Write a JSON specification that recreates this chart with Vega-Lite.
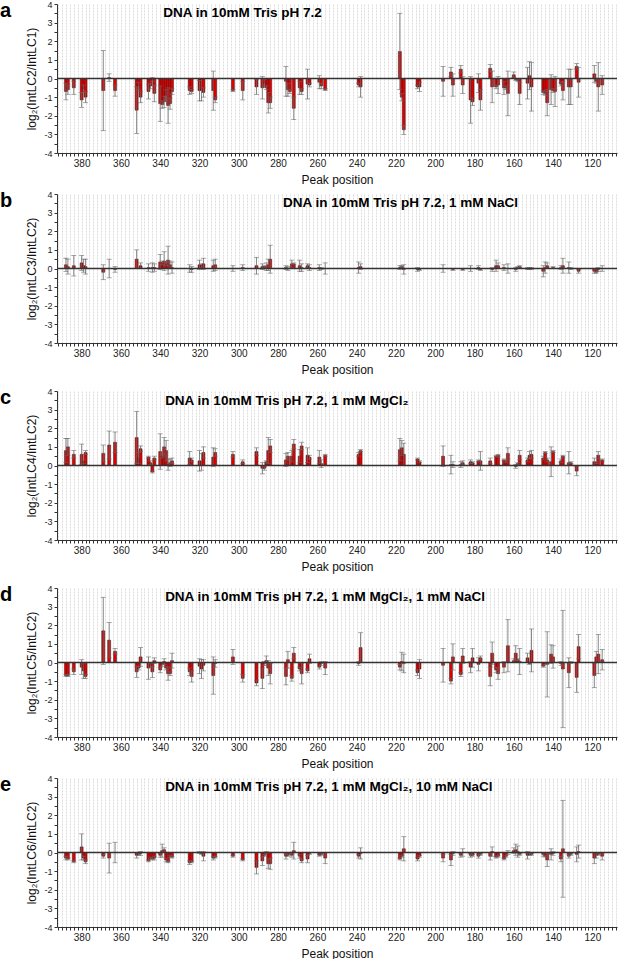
{
"$schema": "https://vega.github.io/schema/vega-lite/v6.json",
"background": "white",
"padding": {"left": 0, "top": 0, "right": 2, "bottom": 0},
"config": {
  "font": "Liberation Sans",
  "view": {"stroke": null},
  "axis": {"domainColor": "#333", "tickColor": "#333", "labelColor": "#222", "labelFontSize": 10, "titleFontSize": 12, "titleFontWeight": "normal", "titleColor": "#111", "tickSize": 3, "labelPadding": 2},
  "axisX": {"grid": true, "gridColor": "#d0d0d0", "gridDash": [2, 1], "gridWidth": 0.7, "titlePadding": 6},
  "axisY": {"grid": false, "titlePadding": 5, "labelFontSize": 9},
  "title": {"fontSize": 20, "fontWeight": "bold", "anchor": "start", "frame": "group", "dx": -57, "offset": -21, "color": "#000"}
},
"datasets": {
"a": [
{"p":388,"v":-0.7,"e":0.45},{"p":387,"v":-0.6,"e":0.25},{"p":384,"v":-0.5,"e":0.35},{"p":380,"v":-1.15,"e":0.4},{"p":379,"v":-0.55,"e":0.2},{"p":378,"v":-1.0,"e":0.3},
{"p":369,"v":-0.65,"e":2.15},{"p":366,"v":0.05,"e":0.2},{"p":363,"v":-0.65,"e":0.3},{"p":352,"v":-1.7,"e":1.25},{"p":351,"v":-0.4,"e":0.2},{"p":350,"v":-1.0,"e":0.3},
{"p":346,"v":-0.7,"e":0.4},{"p":345,"v":-0.4,"e":0.15},{"p":344,"v":-0.05,"e":0.1},{"p":343,"v":-0.8,"e":0.45},{"p":340,"v":-1.35,"e":0.95},{"p":339,"v":-1.4,"e":0.2},
{"p":338,"v":-1.25,"e":0.3},{"p":337,"v":-0.9,"e":0.3},{"p":336,"v":-1.45,"e":0.95},{"p":335,"v":-1.35,"e":0.3},{"p":334,"v":-0.7,"e":0.15},{"p":325,"v":-0.65,"e":0.2},
{"p":324,"v":-0.7,"e":0.1},{"p":320,"v":-0.65,"e":0.55},{"p":319,"v":-0.6,"e":0.6},{"p":318,"v":-0.75,"e":0.25},{"p":313,"v":-0.65,"e":1.05},{"p":312,"v":-1.15,"e":0.15},
{"p":303,"v":-0.65,"e":0.05},{"p":298,"v":-0.65,"e":0.5},{"p":291,"v":-0.45,"e":0.4},{"p":288,"v":-0.5,"e":0.6},{"p":287,"v":-0.25,"e":0.2},{"p":286,"v":-0.5,"e":0.1},
{"p":285,"v":-1.3,"e":0.55},{"p":284,"v":-1.3,"e":0.3},{"p":276,"v":-0.15,"e":0.8},{"p":275,"v":-0.6,"e":0.35},{"p":274,"v":-0.7,"e":0.1},{"p":272,"v":-1.6,"e":0.6},
{"p":269,"v":-0.5,"e":0.35},{"p":268,"v":-0.7,"e":0.15},{"p":265,"v":-0.3,"e":0.8},{"p":264,"v":-0.35,"e":0.1},{"p":259,"v":-0.2,"e":0.35},{"p":258,"v":-0.4,"e":0.15},
{"p":256,"v":-0.6,"e":0.05},{"p":239,"v":-0.35,"e":0.1},{"p":238,"v":-0.45,"e":0.55},{"p":218,"v":1.45,"e":2.05},{"p":217,"v":-1.0,"e":0.2},{"p":216,"v":-2.75,"e":0.25},
{"p":209,"v":-0.45,"e":0.1},{"p":208,"v":-0.45,"e":0.25},{"p":196,"v":-0.15,"e":0.8},{"p":192,"v":0.35,"e":0.25},{"p":191,"v":-0.35,"e":0.6},{"p":187,"v":0.5,"e":0.2},
{"p":186,"v":-0.35,"e":0.45},{"p":182,"v":-1.15,"e":1.25},{"p":181,"v":-1.25,"e":0.2},{"p":178,"v":-0.25,"e":0.5},{"p":177,"v":-1.15,"e":0.55},{"p":172,"v":0.55,"e":0.2},
{"p":171,"v":-0.45,"e":0.85},{"p":169,"v":-0.45,"e":0.1},{"p":168,"v":-0.35,"e":0.45},{"p":165,"v":-0.5,"e":0.35},{"p":164,"v":-0.5,"e":0.1},{"p":163,"v":-0.8,"e":1.2},
{"p":160,"v":0.2,"e":0.15},{"p":159,"v":-0.05,"e":0.05},{"p":158,"v":-0.1,"e":0.05},{"p":157,"v":-0.8,"e":0.6},{"p":153,"v":-0.25,"e":0.85},{"p":152,"v":0.15,"e":0.75},
{"p":151,"v":-0.45,"e":1.3},{"p":145,"v":-0.75,"e":0.1},{"p":144,"v":-0.8,"e":0.1},{"p":143,"v":-1.3,"e":0.7},{"p":141,"v":-0.6,"e":0.8},{"p":140,"v":-0.65,"e":0.1},
{"p":139,"v":-0.7,"e":0.8},{"p":136,"v":-0.3,"e":0.1},{"p":135,"v":-0.65,"e":0.5},{"p":132,"v":-0.45,"e":0.95},{"p":131,"v":-0.45,"e":0.95},{"p":128,"v":0.65,"e":0.15},
{"p":127,"v":-0.2,"e":0.8},{"p":119,"v":0.25,"e":0.45},{"p":118,"v":-0.15,"e":0.1},{"p":117,"v":-0.45,"e":1.3},{"p":115,"v":-0.35,"e":0.5}
],
"b": [
{"p":388,"v":0.2,"e":0.35},{"p":387,"v":0.1,"e":0.4},{"p":384,"v":0.15,"e":0.55},{"p":380,"v":0.3,"e":0.4},{"p":379,"v":0.15,"e":0.35},{"p":378,"v":0.1,"e":0.4},
{"p":369,"v":-0.2,"e":0.4},{"p":366,"v":0.0,"e":0.5},{"p":363,"v":-0.05,"e":0.15},{"p":352,"v":0.5,"e":0.5},{"p":350,"v":0.15,"e":0.15},{"p":346,"v":0.05,"e":0.2},
{"p":344,"v":0.05,"e":0.25},{"p":343,"v":0.05,"e":0.2},{"p":340,"v":0.35,"e":0.4},{"p":339,"v":0.3,"e":0.1},{"p":338,"v":0.4,"e":0.5},{"p":337,"v":0.25,"e":0.1},
{"p":336,"v":0.45,"e":0.75},{"p":335,"v":0.2,"e":0.2},{"p":334,"v":0.05,"e":0.3},{"p":325,"v":0.0,"e":0.2},{"p":324,"v":-0.05,"e":0.15},{"p":320,"v":0.2,"e":0.25},
{"p":319,"v":0.15,"e":0.1},{"p":318,"v":0.25,"e":0.3},{"p":313,"v":0.15,"e":0.3},{"p":312,"v":0.2,"e":0.3},{"p":303,"v":0.0,"e":0.15},{"p":298,"v":0.05,"e":0.15},
{"p":291,"v":0.15,"e":0.45},{"p":288,"v":0.1,"e":0.15},{"p":287,"v":0.1,"e":0.05},{"p":286,"v":0.1,"e":0.2},{"p":285,"v":0.2,"e":0.3},{"p":284,"v":0.5,"e":0.75},
{"p":276,"v":0.05,"e":0.1},{"p":275,"v":0.0,"e":0.1},{"p":273,"v":0.25,"e":0.2},{"p":272,"v":0.25,"e":0.05},{"p":269,"v":0.15,"e":0.3},{"p":268,"v":0.05,"e":0.2},
{"p":265,"v":0.15,"e":0.1},{"p":264,"v":0.05,"e":0.15},{"p":259,"v":0.05,"e":0.15},{"p":258,"v":0.0,"e":0.05},{"p":256,"v":0.0,"e":0.3},{"p":239,"v":0.05,"e":0.3},
{"p":238,"v":0.1,"e":0.15},{"p":218,"v":0.05,"e":0.1},{"p":217,"v":0.1,"e":0.05},{"p":216,"v":-0.05,"e":0.25},{"p":209,"v":-0.05,"e":0.1},{"p":208,"v":-0.05,"e":0.05},
{"p":196,"v":0.0,"e":0.2},{"p":191,"v":-0.05,"e":0.05},{"p":186,"v":-0.05,"e":0.05},{"p":182,"v":0.0,"e":0.15},{"p":178,"v":0.05,"e":0.1},{"p":177,"v":-0.05,"e":0.05},
{"p":171,"v":-0.05,"e":0.1},{"p":169,"v":0.15,"e":0.3},{"p":168,"v":0.15,"e":0.15},{"p":165,"v":0.05,"e":0.15},{"p":163,"v":0.0,"e":0.25},{"p":159,"v":-0.05,"e":0.1},
{"p":158,"v":0.05,"e":0.05},{"p":157,"v":0.1,"e":0.05},{"p":153,"v":0.0,"e":0.05},{"p":152,"v":0.0,"e":0.05},{"p":151,"v":0.0,"e":0.05},{"p":145,"v":-0.15,"e":0.3},
{"p":144,"v":0.05,"e":0.3},{"p":143,"v":0.15,"e":0.15},{"p":140,"v":0.05,"e":0.05},{"p":136,"v":0.05,"e":0.1},{"p":135,"v":0.15,"e":0.4},{"p":132,"v":0.05,"e":0.3},
{"p":131,"v":0.0,"e":0.05},{"p":127,"v":-0.15,"e":0.1},{"p":119,"v":-0.15,"e":0.1},{"p":118,"v":-0.2,"e":0.05},{"p":117,"v":-0.05,"e":0.1},{"p":115,"v":0.0,"e":0.15}
],
"c": [
{"p":388,"v":0.8,"e":0.65},{"p":387,"v":1.0,"e":0.45},{"p":384,"v":0.6,"e":0.2},{"p":380,"v":0.6,"e":0.55},{"p":379,"v":0.2,"e":0.1},{"p":378,"v":0.7,"e":0.1},
{"p":369,"v":0.65,"e":0.45},{"p":366,"v":1.1,"e":0.75},{"p":363,"v":1.25,"e":0.55},{"p":352,"v":1.5,"e":1.4},{"p":351,"v":0.4,"e":0.3},{"p":350,"v":0.9,"e":0.15},
{"p":346,"v":0.45,"e":0.05},{"p":345,"v":0.15,"e":0.1},{"p":344,"v":-0.35,"e":0.05},{"p":343,"v":0.4,"e":0.1},{"p":340,"v":0.75,"e":0.95},{"p":339,"v":0.5,"e":0.1},
{"p":338,"v":1.0,"e":0.5},{"p":337,"v":0.8,"e":0.55},{"p":336,"v":0.05,"e":0.3},{"p":335,"v":0.15,"e":0.2},{"p":334,"v":0.25,"e":0.15},{"p":325,"v":0.4,"e":0.35},
{"p":324,"v":0.3,"e":0.1},{"p":320,"v":0.25,"e":0.55},{"p":319,"v":0.2,"e":0.45},{"p":318,"v":0.7,"e":0.3},{"p":313,"v":0.45,"e":0.5},{"p":312,"v":0.7,"e":0.2},
{"p":303,"v":0.6,"e":0.15},{"p":298,"v":0.2,"e":0.1},{"p":291,"v":0.75,"e":0.2},{"p":288,"v":-0.15,"e":0.3},{"p":287,"v":-0.15,"e":0.1},{"p":286,"v":0.2,"e":0.05},
{"p":285,"v":0.8,"e":0.7},{"p":284,"v":1.05,"e":0.35},{"p":276,"v":0.3,"e":0.35},{"p":275,"v":0.5,"e":0.2},{"p":273,"v":0.5,"e":0.3},{"p":272,"v":1.15,"e":0.25},
{"p":269,"v":0.5,"e":0.35},{"p":268,"v":1.05,"e":0.2},{"p":265,"v":0.55,"e":0.4},{"p":264,"v":0.45,"e":0.1},{"p":259,"v":0.45,"e":0.35},{"p":258,"v":0.1,"e":0.2},
{"p":256,"v":0.55,"e":0.05},{"p":239,"v":0.6,"e":0.1},{"p":238,"v":0.8,"e":0.05},{"p":218,"v":0.85,"e":0.6},{"p":217,"v":0.95,"e":0.4},{"p":216,"v":0.6,"e":0.6},
{"p":209,"v":0.35,"e":0.05},{"p":208,"v":0.2,"e":0.05},{"p":196,"v":0.5,"e":0.55},{"p":192,"v":0.05,"e":0.5},{"p":191,"v":0.05,"e":0.15},{"p":187,"v":0.05,"e":0.15},
{"p":186,"v":0.15,"e":0.1},{"p":182,"v":0.2,"e":0.1},{"p":181,"v":0.15,"e":0.05},{"p":178,"v":0.25,"e":0.05},{"p":177,"v":0.25,"e":0.5},{"p":172,"v":0.25,"e":0.15},
{"p":169,"v":0.5,"e":0.05},{"p":168,"v":0.55,"e":0.05},{"p":165,"v":0.3,"e":0.05},{"p":164,"v":0.2,"e":0.05},{"p":163,"v":0.65,"e":0.3},{"p":159,"v":-0.05,"e":0.1},
{"p":158,"v":0.1,"e":0.05},{"p":157,"v":0.55,"e":0.25},{"p":153,"v":0.3,"e":0.1},{"p":152,"v":0.55,"e":0.2},{"p":151,"v":0.6,"e":0.2},{"p":145,"v":0.4,"e":0.1},
{"p":144,"v":0.7,"e":0.05},{"p":143,"v":0.3,"e":0.1},{"p":141,"v":0.2,"e":0.8},{"p":140,"v":0.75,"e":0.05},{"p":136,"v":0.25,"e":0.1},{"p":135,"v":0.5,"e":0.05},
{"p":132,"v":0.15,"e":0.6},{"p":131,"v":0.15,"e":0.05},{"p":128,"v":-0.3,"e":0.25},{"p":119,"v":0.2,"e":0.2},{"p":118,"v":0.15,"e":0.05},{"p":117,"v":0.55,"e":0.2},
{"p":115,"v":0.3,"e":0.05}
],
"d": [
{"p":388,"v":-0.7,"e":0.05},{"p":387,"v":-0.7,"e":0.05},{"p":384,"v":-0.5,"e":0.15},{"p":380,"v":-0.25,"e":0.4},{"p":379,"v":-0.45,"e":0.4},{"p":378,"v":-0.75,"e":0.1},
{"p":369,"v":1.7,"e":1.8},{"p":366,"v":1.2,"e":0.95},{"p":363,"v":0.6,"e":0.15},{"p":352,"v":-0.5,"e":0.3},{"p":351,"v":-0.3,"e":0.1},{"p":350,"v":0.3,"e":0.5},
{"p":346,"v":-0.3,"e":0.6},{"p":345,"v":-0.15,"e":0.1},{"p":344,"v":-0.5,"e":0.3},{"p":343,"v":0.1,"e":0.15},{"p":340,"v":-0.4,"e":0.15},{"p":339,"v":-0.1,"e":0.1},
{"p":338,"v":0.05,"e":0.15},{"p":337,"v":-0.3,"e":0.1},{"p":336,"v":-0.6,"e":0.35},{"p":335,"v":-0.6,"e":0.1},{"p":334,"v":0.1,"e":0.4},{"p":325,"v":-0.5,"e":0.2},
{"p":324,"v":-0.75,"e":0.3},{"p":320,"v":-0.2,"e":0.4},{"p":319,"v":-0.35,"e":0.5},{"p":318,"v":-0.15,"e":0.3},{"p":313,"v":-0.7,"e":1.0},{"p":312,"v":-0.05,"e":0.2},
{"p":303,"v":0.3,"e":0.4},{"p":298,"v":-0.85,"e":0.2},{"p":291,"v":-1.1,"e":0.15},{"p":288,"v":-0.85,"e":0.55},{"p":287,"v":-0.05,"e":0.1},{"p":286,"v":0.1,"e":0.25},
{"p":285,"v":-0.3,"e":0.4},{"p":284,"v":-0.6,"e":0.55},{"p":276,"v":-0.75,"e":0.45},{"p":275,"v":0.15,"e":0.45},{"p":273,"v":-0.85,"e":0.15},{"p":272,"v":0.5,"e":0.3},
{"p":269,"v":-0.35,"e":0.1},{"p":268,"v":-0.6,"e":0.55},{"p":265,"v":-0.45,"e":0.1},{"p":264,"v":0.2,"e":0.25},{"p":259,"v":-0.25,"e":0.1},{"p":258,"v":-0.05,"e":0.1},
{"p":256,"v":-0.3,"e":0.35},{"p":239,"v":-0.05,"e":0.1},{"p":238,"v":0.8,"e":0.8},{"p":218,"v":-0.25,"e":0.15},{"p":217,"v":0.05,"e":0.5},{"p":216,"v":-0.05,"e":0.5},
{"p":209,"v":-0.55,"e":0.15},{"p":208,"v":-0.35,"e":0.5},{"p":196,"v":-0.15,"e":0.9},{"p":192,"v":-1.0,"e":0.15},{"p":191,"v":0.3,"e":0.7},{"p":187,"v":-0.65,"e":0.1},
{"p":186,"v":0.35,"e":0.4},{"p":182,"v":-0.25,"e":0.3},{"p":181,"v":0.25,"e":0.5},{"p":178,"v":-0.1,"e":0.35},{"p":177,"v":0.25,"e":0.1},{"p":172,"v":-0.75,"e":0.5},
{"p":171,"v":0.5,"e":0.6},{"p":169,"v":-0.4,"e":0.15},{"p":168,"v":-0.6,"e":0.3},{"p":165,"v":-0.25,"e":0.3},{"p":163,"v":0.9,"e":1.4},{"p":160,"v":0.1,"e":0.1},
{"p":159,"v":0.5,"e":0.4},{"p":158,"v":0.15,"e":0.05},{"p":157,"v":0.05,"e":0.7},{"p":153,"v":0.25,"e":0.25},{"p":152,"v":-0.05,"e":0.05},{"p":151,"v":0.65,"e":1.15},
{"p":145,"v":-0.2,"e":0.05},{"p":144,"v":-0.05,"e":0.05},{"p":143,"v":-0.1,"e":1.75},{"p":141,"v":0.45,"e":0.5},{"p":140,"v":0.3,"e":0.6},{"p":136,"v":-0.05,"e":0.1},
{"p":135,"v":-0.35,"e":3.15},{"p":132,"v":-0.55,"e":0.8},{"p":131,"v":0.0,"e":0.05},{"p":128,"v":-0.8,"e":0.8},{"p":127,"v":0.85,"e":0.65},{"p":119,"v":-0.7,"e":0.65},
{"p":118,"v":0.3,"e":0.3},{"p":117,"v":0.45,"e":1.05},{"p":115,"v":0.15,"e":0.55}
],
"e": [
{"p":388,"v":-0.3,"e":0.1},{"p":387,"v":-0.35,"e":0.05},{"p":384,"v":-0.5,"e":0.05},{"p":380,"v":0.3,"e":0.7},{"p":379,"v":-0.3,"e":0.1},{"p":378,"v":-0.5,"e":0.1},
{"p":369,"v":-0.2,"e":0.1},{"p":366,"v":-0.3,"e":0.8},{"p":363,"v":0.0,"e":0.55},{"p":352,"v":-0.15,"e":0.15},{"p":351,"v":-0.1,"e":0.05},{"p":350,"v":-0.05,"e":0.1},
{"p":346,"v":-0.45,"e":0.05},{"p":345,"v":-0.3,"e":0.05},{"p":344,"v":-0.35,"e":0.05},{"p":343,"v":-0.3,"e":0.1},{"p":340,"v":-0.15,"e":0.1},{"p":339,"v":0.1,"e":0.35},
{"p":338,"v":0.15,"e":0.1},{"p":337,"v":-0.4,"e":0.1},{"p":336,"v":-0.5,"e":0.05},{"p":335,"v":-0.2,"e":0.05},{"p":334,"v":-0.25,"e":0.05},{"p":325,"v":-0.55,"e":0.1},
{"p":324,"v":-0.5,"e":0.05},{"p":320,"v":0.0,"e":0.05},{"p":319,"v":-0.05,"e":0.05},{"p":318,"v":-0.2,"e":0.25},{"p":313,"v":-0.3,"e":0.1},{"p":312,"v":-0.25,"e":0.05},
{"p":303,"v":-0.2,"e":0.05},{"p":298,"v":-0.4,"e":0.05},{"p":291,"v":-0.8,"e":0.35},{"p":288,"v":-0.45,"e":0.25},{"p":287,"v":-0.15,"e":0.05},{"p":286,"v":0.0,"e":0.05},
{"p":285,"v":-0.6,"e":0.25},{"p":284,"v":-0.6,"e":0.3},{"p":276,"v":-0.2,"e":0.15},{"p":275,"v":-0.15,"e":0.05},{"p":273,"v":-0.15,"e":0.1},{"p":272,"v":0.1,"e":0.45},
{"p":269,"v":-0.2,"e":0.1},{"p":268,"v":-0.45,"e":0.1},{"p":265,"v":-0.35,"e":0.2},{"p":264,"v":-0.05,"e":0.05},{"p":259,"v":-0.15,"e":0.05},{"p":258,"v":-0.1,"e":0.05},
{"p":256,"v":-0.3,"e":0.3},{"p":239,"v":-0.2,"e":0.1},{"p":238,"v":-0.05,"e":0.3},{"p":218,"v":-0.35,"e":0.05},{"p":217,"v":-0.2,"e":0.05},{"p":216,"v":0.2,"e":0.65},
{"p":209,"v":-0.35,"e":0.1},{"p":208,"v":-0.2,"e":0.05},{"p":196,"v":-0.3,"e":0.2},{"p":192,"v":-0.4,"e":0.3},{"p":191,"v":-0.05,"e":0.1},{"p":187,"v":-0.15,"e":0.1},
{"p":186,"v":0.0,"e":0.2},{"p":182,"v":-0.15,"e":0.1},{"p":181,"v":-0.15,"e":0.05},{"p":178,"v":-0.2,"e":0.1},{"p":177,"v":-0.1,"e":0.05},{"p":172,"v":-0.2,"e":0.2},
{"p":171,"v":0.05,"e":0.25},{"p":169,"v":-0.25,"e":0.05},{"p":168,"v":-0.2,"e":0.05},{"p":165,"v":-0.35,"e":0.05},{"p":164,"v":-0.2,"e":0.05},{"p":163,"v":0.0,"e":0.1},
{"p":160,"v":0.1,"e":0.15},{"p":159,"v":0.15,"e":0.3},{"p":158,"v":0.05,"e":0.3},{"p":157,"v":-0.1,"e":0.05},{"p":153,"v":-0.15,"e":0.2},{"p":152,"v":-0.1,"e":0.05},
{"p":151,"v":-0.1,"e":0.05},{"p":145,"v":-0.1,"e":0.1},{"p":144,"v":-0.2,"e":0.05},{"p":143,"v":-0.4,"e":0.35},{"p":141,"v":-0.1,"e":0.3},{"p":140,"v":-0.05,"e":0.1},
{"p":136,"v":-0.35,"e":0.15},{"p":135,"v":0.2,"e":2.6},{"p":132,"v":-0.2,"e":0.1},{"p":131,"v":-0.1,"e":0.05},{"p":128,"v":-0.1,"e":0.4},{"p":127,"v":0.05,"e":0.35},
{"p":119,"v":-0.3,"e":0.3},{"p":118,"v":-0.15,"e":0.15},{"p":117,"v":-0.1,"e":0.05},{"p":115,"v":-0.2,"e":0.2}
]
},
"spacing": 5,
"vconcat": [
{
 "width": 560, "height": 149,
 "title": {"text": "a"},
 "layer": [
  {"data": {"name": "a"}, "mark": {"type": "bar", "size": 3, "fill": "#e00000", "stroke": "#222", "strokeWidth": 0.5},
   "encoding": {
    "x": {"field": "p", "type": "quantitative", "title": "Peak position", "scale": {"domain": [110, 390], "reverse": true, "nice": false, "zero": false}, "axis": {"tickCount": 140, "labelExpr": "datum.value % 20 == 0 ? datum.label : ''", "labelOverlap": false}},
    "y": {"field": "v", "type": "quantitative", "title": "log₂(IntLC2/IntLC1)", "scale": {"domain": [-4, 4], "nice": false}, "axis": {"tickCount": 16, "labelExpr": "datum.value % 1 == 0 ? replace(format(datum.value, 'd'), '−', '-') : ''", "labelOverlap": false}},
    "y2": {"datum": 0}}},
  {"data": {"name": "a"}, "mark": {"type": "errorbar", "ticks": {"size": 5}, "color": "#666", "thickness": 0.8},
   "encoding": {"x": {"field": "p", "type": "quantitative", "title": "Peak position"}, "y": {"field": "v", "type": "quantitative", "title": "log₂(IntLC2/IntLC1)"}, "yError": {"field": "e"}}},
  {"data": {"values": [{}]}, "mark": {"type": "rule", "color": "#333", "strokeWidth": 1.5}, "encoding": {"y": {"datum": 0}}},
  {"data": {"values": [{}]}, "mark": {"type": "text", "align": "left", "baseline": "middle", "fontSize": 13.5, "fontWeight": "bold", "color": "#000"},
   "encoding": {"x": {"datum": 338.5}, "y": {"datum": 3.5}, "text": {"value": "DNA in 10mM Tris pH 7.2"}}}
 ]
},
{
 "spacing": 12,
 "vconcat": [
 {
  "width": 560, "height": 149,
  "title": {"text": "b"},
  "layer": [
   {"data": {"name": "b"}, "mark": {"type": "bar", "size": 3, "fill": "#e00000", "stroke": "#222", "strokeWidth": 0.5},
    "encoding": {
     "x": {"field": "p", "type": "quantitative", "title": "Peak position", "scale": {"domain": [110, 390], "reverse": true, "nice": false, "zero": false}, "axis": {"tickCount": 140, "labelExpr": "datum.value % 20 == 0 ? datum.label : ''", "labelOverlap": false}},
     "y": {"field": "v", "type": "quantitative", "title": "log₂(IntLC3/IntLC2)", "scale": {"domain": [-4, 4], "nice": false}, "axis": {"tickCount": 16, "labelExpr": "datum.value % 1 == 0 ? replace(format(datum.value, 'd'), '−', '-') : ''", "labelOverlap": false}},
     "y2": {"datum": 0}}},
   {"data": {"name": "b"}, "mark": {"type": "errorbar", "ticks": {"size": 5}, "color": "#666", "thickness": 0.8},
    "encoding": {"x": {"field": "p", "type": "quantitative", "title": "Peak position"}, "y": {"field": "v", "type": "quantitative", "title": "log₂(IntLC3/IntLC2)"}, "yError": {"field": "e"}}},
   {"data": {"values": [{}]}, "mark": {"type": "rule", "color": "#333", "strokeWidth": 1.5}, "encoding": {"y": {"datum": 0}}},
   {"data": {"values": [{}]}, "mark": {"type": "text", "align": "left", "baseline": "middle", "fontSize": 13.5, "fontWeight": "bold", "color": "#000"},
    "encoding": {"x": {"datum": 277.5}, "y": {"datum": 3.5}, "text": {"value": "DNA in 10mM Tris pH 7.2, 1 mM NaCl"}}}
  ]
 },
 {
  "width": 560, "height": 149,
  "title": {"text": "c"},
  "layer": [
   {"data": {"name": "c"}, "mark": {"type": "bar", "size": 3, "fill": "#e00000", "stroke": "#222", "strokeWidth": 0.5},
    "encoding": {
     "x": {"field": "p", "type": "quantitative", "title": "Peak position", "scale": {"domain": [110, 390], "reverse": true, "nice": false, "zero": false}, "axis": {"tickCount": 140, "labelExpr": "datum.value % 20 == 0 ? datum.label : ''", "labelOverlap": false}},
     "y": {"field": "v", "type": "quantitative", "title": "log₂(IntLC4/IntLC2)", "scale": {"domain": [-4, 4], "nice": false}, "axis": {"tickCount": 16, "labelExpr": "datum.value % 1 == 0 ? replace(format(datum.value, 'd'), '−', '-') : ''", "labelOverlap": false}},
     "y2": {"datum": 0}}},
   {"data": {"name": "c"}, "mark": {"type": "errorbar", "ticks": {"size": 5}, "color": "#666", "thickness": 0.8},
    "encoding": {"x": {"field": "p", "type": "quantitative", "title": "Peak position"}, "y": {"field": "v", "type": "quantitative", "title": "log₂(IntLC4/IntLC2)"}, "yError": {"field": "e"}}},
   {"data": {"values": [{}]}, "mark": {"type": "rule", "color": "#333", "strokeWidth": 1.5}, "encoding": {"y": {"datum": 0}}},
   {"data": {"values": [{}]}, "mark": {"type": "text", "align": "left", "baseline": "middle", "fontSize": 13.5, "fontWeight": "bold", "color": "#000"},
    "encoding": {"x": {"datum": 337.5}, "y": {"datum": 3.45}, "text": {"value": "DNA in 10mM Tris pH 7.2, 1 mM MgCl₂"}}}
  ]
 },
 {
  "width": 560, "height": 149,
  "title": {"text": "d"},
  "layer": [
   {"data": {"name": "d"}, "mark": {"type": "bar", "size": 3, "fill": "#e00000", "stroke": "#222", "strokeWidth": 0.5},
    "encoding": {
     "x": {"field": "p", "type": "quantitative", "title": "Peak position", "scale": {"domain": [110, 390], "reverse": true, "nice": false, "zero": false}, "axis": {"tickCount": 140, "labelExpr": "datum.value % 20 == 0 ? datum.label : ''", "labelOverlap": false}},
     "y": {"field": "v", "type": "quantitative", "title": "log₂(IntLC5/IntLC2)", "scale": {"domain": [-4, 4], "nice": false}, "axis": {"tickCount": 16, "labelExpr": "datum.value % 1 == 0 ? replace(format(datum.value, 'd'), '−', '-') : ''", "labelOverlap": false}},
     "y2": {"datum": 0}}},
   {"data": {"name": "d"}, "mark": {"type": "errorbar", "ticks": {"size": 5}, "color": "#666", "thickness": 0.8},
    "encoding": {"x": {"field": "p", "type": "quantitative", "title": "Peak position"}, "y": {"field": "v", "type": "quantitative", "title": "log₂(IntLC5/IntLC2)"}, "yError": {"field": "e"}}},
   {"data": {"values": [{}]}, "mark": {"type": "rule", "color": "#333", "strokeWidth": 1.5}, "encoding": {"y": {"datum": 0}}},
   {"data": {"values": [{}]}, "mark": {"type": "text", "align": "left", "baseline": "middle", "fontSize": 13.5, "fontWeight": "bold", "color": "#000"},
    "encoding": {"x": {"datum": 337.5}, "y": {"datum": 3.5}, "text": {"value": "DNA in 10mM Tris pH 7.2, 1 mM MgCl₂, 1 mM NaCl"}}}
  ]
 }
 ]
},
{
 "width": 560, "height": 149,
 "title": {"text": "e"},
 "layer": [
  {"data": {"name": "e"}, "mark": {"type": "bar", "size": 3, "fill": "#e00000", "stroke": "#222", "strokeWidth": 0.5},
   "encoding": {
    "x": {"field": "p", "type": "quantitative", "title": "Peak position", "scale": {"domain": [110, 390], "reverse": true, "nice": false, "zero": false}, "axis": {"tickCount": 140, "labelExpr": "datum.value % 20 == 0 ? datum.label : ''", "labelOverlap": false}},
    "y": {"field": "v", "type": "quantitative", "title": "log₂(IntLC6/IntLC2)", "scale": {"domain": [-4, 4], "nice": false}, "axis": {"tickCount": 16, "labelExpr": "datum.value % 1 == 0 ? replace(format(datum.value, 'd'), '−', '-') : ''", "labelOverlap": false}},
    "y2": {"datum": 0}}},
  {"data": {"name": "e"}, "mark": {"type": "errorbar", "ticks": {"size": 5}, "color": "#666", "thickness": 0.8},
   "encoding": {"x": {"field": "p", "type": "quantitative", "title": "Peak position"}, "y": {"field": "v", "type": "quantitative", "title": "log₂(IntLC6/IntLC2)"}, "yError": {"field": "e"}}},
  {"data": {"values": [{}]}, "mark": {"type": "rule", "color": "#333", "strokeWidth": 1.5}, "encoding": {"y": {"datum": 0}}},
  {"data": {"values": [{}]}, "mark": {"type": "text", "align": "left", "baseline": "middle", "fontSize": 13.5, "fontWeight": "bold", "color": "#000"},
   "encoding": {"x": {"datum": 337.5}, "y": {"datum": 3.5}, "text": {"value": "DNA in 10mM Tris pH 7.2, 1 mM MgCl₂, 10 mM NaCl"}}}
 ]
}
]
}
